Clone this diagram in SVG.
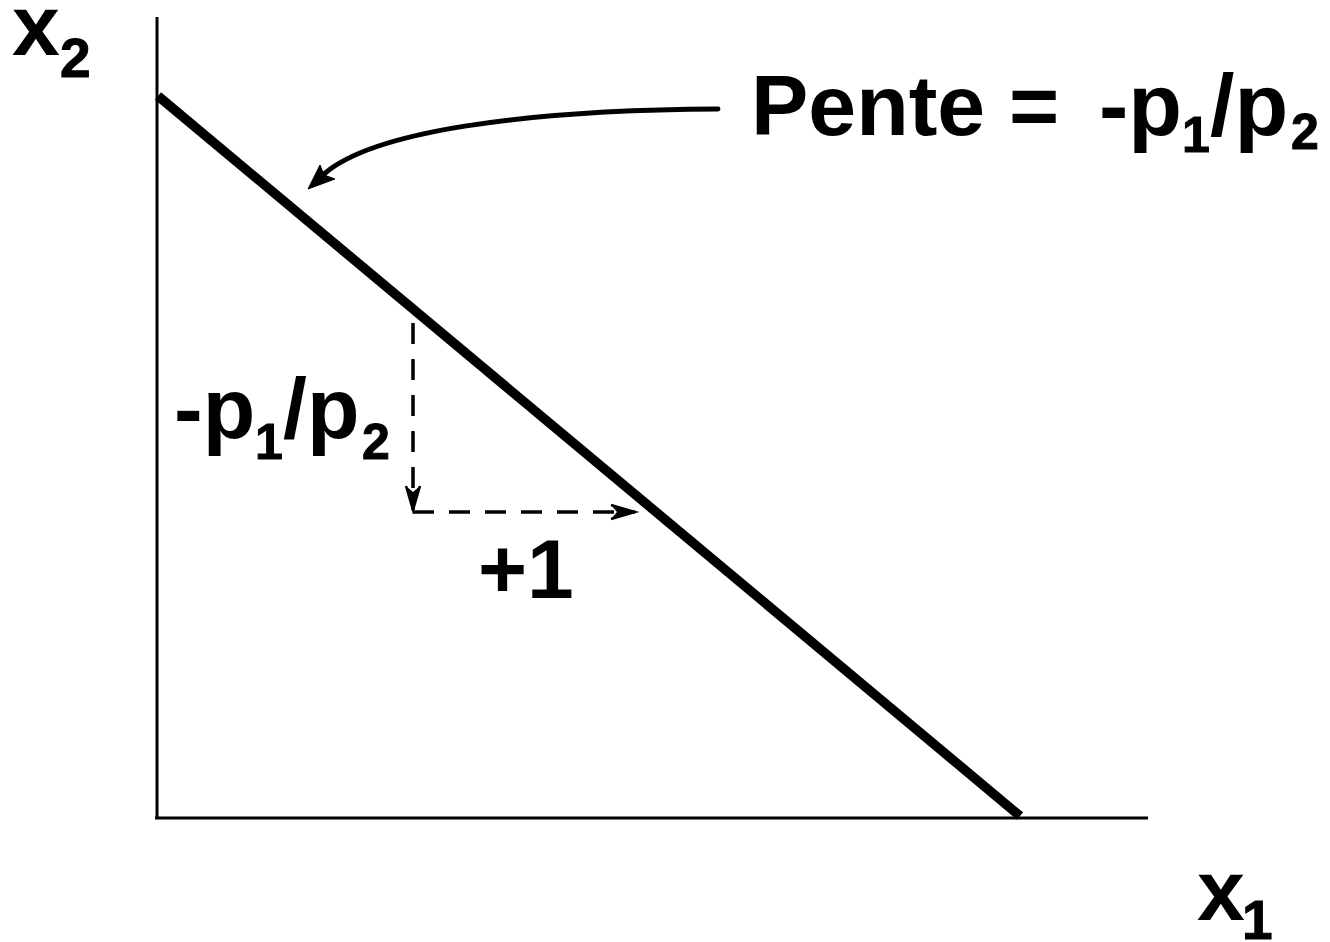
<svg xmlns="http://www.w3.org/2000/svg" width="1330" height="942" viewBox="0 0 1330 942">
  <style>
    .lbl { font-family: "Liberation Sans", Arial, sans-serif; font-weight: 700; fill: #000; }
    .sub { font-family: "Liberation Sans", Arial, sans-serif; font-weight: 700; fill: #000; stroke: #000; stroke-width: 1; }
    .axis { stroke: #000; stroke-width: 3; fill: none; }
    .budget { stroke: #000; stroke-width: 9.5; fill: none; }
    .dash { stroke: #000; stroke-width: 3.5; fill: none; stroke-dasharray: 21 15; }
    .curve { stroke: #000; stroke-width: 5; fill: none; stroke-linecap: round; }
    .head { fill: #000; stroke: #000; stroke-width: 1; stroke-linejoin: miter; }
  </style>
  <defs>
    <marker id="stick" markerUnits="userSpaceOnUse" markerWidth="30" markerHeight="20" refX="0" refY="0" orient="auto" overflow="visible">
      <path d="M0,0 L-24,-7 L-18,0 L-24,7 Z" fill="#000"/>
      <path d="M-24,-7 L0,0 L-24,7" fill="none" stroke="#000" stroke-width="2.5"/>
    </marker>
  </defs>

  <g id="axes">
    <line class="axis" x1="157" y1="17" x2="157" y2="819"/>
    <line class="axis" x1="155" y1="818" x2="1148" y2="818"/>
  </g>

  <g id="budget-line">
    <line class="budget" x1="158" y1="96" x2="1020" y2="816"/>
  </g>

  <g id="connectors">
    <path class="curve" d="M718,109 C520,110 372,132 324,174"/>
    <path class="head" d="M308,189 L320,165 L324,175 L335,179 Z"/>
    <line class="dash" x1="413" y1="323" x2="413" y2="510" marker-end="url(#stick)"/>
    <line class="dash" x1="413" y1="512" x2="635" y2="512" marker-end="url(#stick)"/>
  </g>

  <g id="label-x2">
    <text class="lbl" x="12" y="55" font-size="86">x</text>
    <text class="sub" x="60" y="77" font-size="55">2</text>
  </g>
  <g id="label-x1">
    <text class="lbl" x="1197" y="920" font-size="86">x</text>
    <text class="sub" x="1242" y="939" font-size="55">1</text>
  </g>
  <g id="label-pente">
    <text class="lbl" x="751" y="135" font-size="86">Pente =</text>
    <text class="lbl" x="1099" y="135" font-size="88">-p</text>
    <text class="sub" x="1182" y="152" font-size="50">1</text>
    <text class="lbl" x="1210" y="135" font-size="88">/p</text>
    <text class="sub" x="1291" y="149" font-size="50">2</text>
  </g>
  <g id="label-rise">
    <text class="lbl" x="174" y="438" font-size="86">-p</text>
    <text class="sub" x="255" y="459" font-size="50">1</text>
    <text class="lbl" x="283" y="438" font-size="86">/p</text>
    <text class="sub" x="362" y="459" font-size="50">2</text>
  </g>
  <g id="label-run">
    <text class="lbl" x="478" y="598" font-size="84">+1</text>
  </g>
</svg>
